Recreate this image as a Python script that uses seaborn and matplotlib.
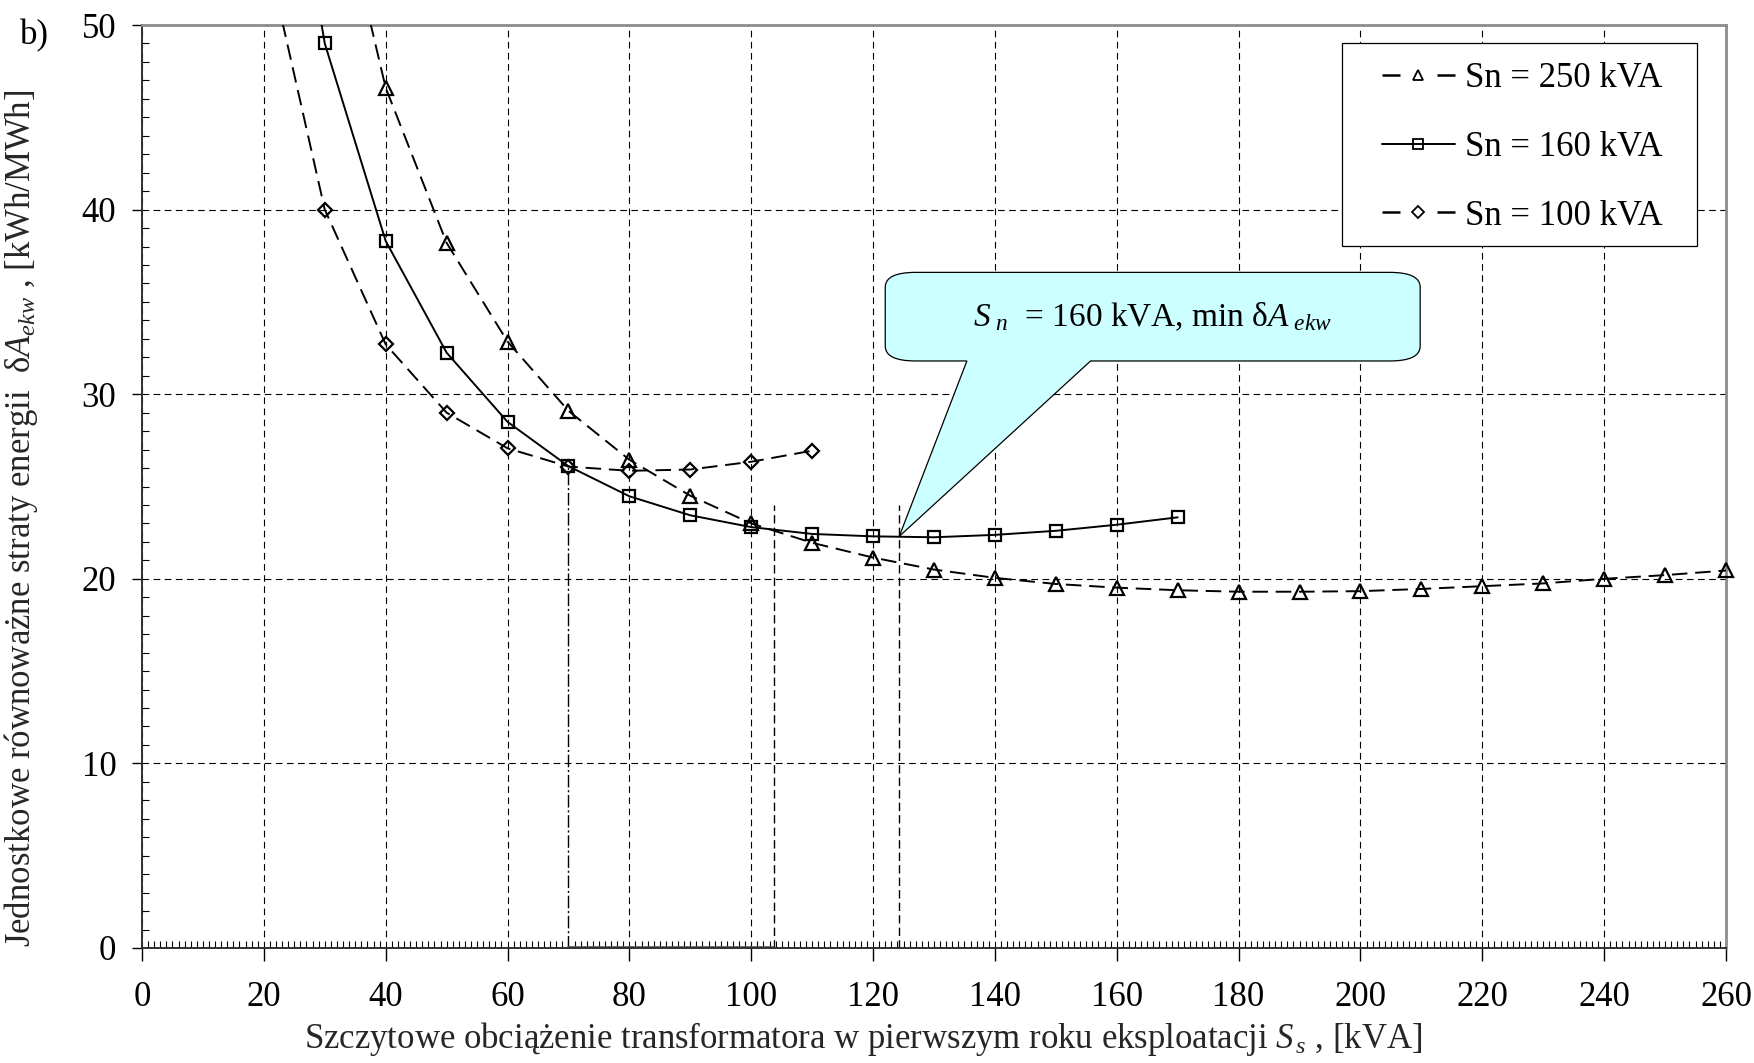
import numpy as np
import pandas as pd
import matplotlib
matplotlib.use("Agg")
import matplotlib.pyplot as plt
import seaborn as sns
from matplotlib.path import Path
from matplotlib.patches import PathPatch, Rectangle
from matplotlib.lines import Line2D
from matplotlib.ticker import MultipleLocator

# ---------------- data ----------------
labels = ["Sn = 250 kVA", "Sn = 160 kVA", "Sn = 100 kVA"]

x_250 = [30, 40, 50, 60, 70, 80, 90, 100, 110, 120, 130, 140, 150, 160, 170,
         180, 190, 200, 210, 220, 230, 240, 250, 260]
y_250 = [60.6, 46.6, 38.2, 32.85, 29.1, 26.45, 24.5, 23.0, 21.95, 21.15, 20.5,
         20.05, 19.72, 19.52, 19.38, 19.3, 19.3, 19.33, 19.45, 19.6, 19.75,
         20.0, 20.2, 20.45]

x_160 = [20, 30, 40, 50, 60, 70, 80, 90, 100, 110, 120, 130, 140, 150, 160, 170]
y_160 = [68.5, 49.0, 38.3, 32.25, 28.5, 26.1, 24.47, 23.44, 22.8, 22.43, 22.3,
         22.25, 22.38, 22.6, 22.93, 23.33]

x_100 = [20, 30, 40, 50, 60, 70, 80, 90, 100, 110]
y_100 = [54.6, 40.0, 32.7, 29.0, 27.07, 26.08, 25.85, 25.92, 26.34, 26.94]

x_ticks = [0, 20, 40, 60, 80, 100, 120, 140, 160, 180, 200, 220, 240, 260]
y_ticks = [0, 10, 20, 30, 40, 50]

# ---------------- style ----------------
sns.set_theme(style="white")
plt.rcParams['font.family'] = ['Liberation Serif', 'DejaVu Serif']
plt.rcParams['mathtext.fontset'] = 'custom'
plt.rcParams['mathtext.rm'] = 'Liberation Serif'
plt.rcParams['mathtext.it'] = 'Liberation Serif:italic'
plt.rcParams['text.color'] = 'black'

FS = 25
W, H = 1754, 1063
fig = plt.figure(figsize=(W / 100, H / 100), dpi=100)
ax = fig.add_axes([142 / W, 1 - 948 / H, (1726 - 142) / W, (948 - 25) / H])

dash = (0, (8, 4))
series = [
    (labels[0], x_250, y_250, '^', dash, 10.5),
    (labels[1], x_160, y_160, 's', '-', 8.5),
    (labels[2], x_100, y_100, 'D', dash, 7.5),
]

ymax = 50
for lab, xs, ys, mk, ls, ms in series:
    df = pd.DataFrame({'x': xs, 'y': ys})
    sns.lineplot(data=df, x='x', y='y', ax=ax, color='black', lw=1.4,
                 linestyle=ls, sort=False, legend=False, zorder=3)
    vis = df[df['y'] <= ymax]
    ax.plot(vis['x'], vis['y'], ls='none', marker=mk, ms=ms, mfc='none',
            mec='black', mew=1.6, clip_on=False, zorder=4)

# reference lines marking the ranges
ax.plot([70, 70], [0, 26.1], color='black', lw=1.0, ls=(0, (9, 2, 1.5, 2)), zorder=2)
ax.plot([103.7, 103.7], [0, 24.0], color='black', lw=1.0, ls=(0, (6, 3)), zorder=2)
ax.plot([124.3, 124.3], [0, 24.0], color='black', lw=1.0, ls=(0, (6, 3)), zorder=2)
ax.plot([70, 103.7], [0.08, 0.08], color='#555555', lw=1.2, zorder=2)

# axes
ax.set_xlim(0, 260)
ax.set_ylim(0, 50)
ax.set_xticks(x_ticks)
ax.set_yticks(y_ticks)
ax.xaxis.set_minor_locator(MultipleLocator(1))
ax.yaxis.set_minor_locator(MultipleLocator(1))
ax.tick_params(which='both', bottom=True, left=True, top=False, right=False,
               colors='black')
ax.tick_params(which='major', direction='out', width=1.0, labelsize=FS)
ax.tick_params(axis='x', which='major', length=9, pad=15)
ax.tick_params(axis='y', which='major', length=7.5, pad=11)
ax.tick_params(which='minor', direction='in', length=5, width=0.8)
ax.grid(True, which='major', color='black', ls=(0, (6, 4)), lw=0.8)
ax.set_axisbelow(True)
for s in ['top', 'right']:
    ax.spines[s].set_color('#8c8c8c')
    ax.spines[s].set_linewidth(2.0)
for s in ['left', 'bottom']:
    ax.spines[s].set_color('#303030')
    ax.spines[s].set_linewidth(1.4)

ax.set_xlabel("Szczytowe obciążenie transformatora w pierwszym roku eksploatacji $S_{\\,s}$ , [kVA]",
              fontsize=FS, va='baseline')
ax.xaxis.set_label_coords((863 - 142) / 1584, -100 / 923)
ax.set_ylabel("Jednostkowe równoważne straty energii  δ$A_{ekw}$ , [kWh/MWh]",
              fontsize=FS, va='center')
ax.yaxis.set_label_coords((21 - 142) / 1584, 0.466)

fig.text(20 / W, 1 - 36 / H, "b)", fontsize=FS, ha='left', va='center')

# callout
x0, x1, yt, yb = 122.0, 209.8, 36.6, 31.8
rx, ry = 5.0, 0.8
pl, pr = 135.4, 155.7
tip = (124.3, 22.3)
verts = [
    (x0 + rx, yt), (x1 - rx, yt),
    (x1, yt), (x1, yt - ry),
    (x1, yb + ry),
    (x1, yb), (x1 - rx, yb),
    (pr, yb), tip, (pl, yb),
    (x0 + rx, yb),
    (x0, yb), (x0, yb + ry),
    (x0, yt - ry),
    (x0, yt), (x0 + rx, yt),
    (x0 + rx, yt),
]
codes = [Path.MOVETO, Path.LINETO, Path.CURVE3, Path.CURVE3, Path.LINETO,
         Path.CURVE3, Path.CURVE3, Path.LINETO, Path.LINETO, Path.LINETO,
         Path.LINETO, Path.CURVE3, Path.CURVE3, Path.LINETO, Path.CURVE3,
         Path.CURVE3, Path.CLOSEPOLY]
ax.add_patch(PathPatch(Path(verts, codes), fc='#ccffff', ec='black', lw=0.9,
                       zorder=5))
ax.text(165.9, 34.2, "$S_{\\ n}$  = 160 kVA, min δ$A_{\\ ekw}$", ha='center',
        va='center', fontsize=24, zorder=6)

# legend: frame drawn as a box, entries placed inside it
ax.add_patch(Rectangle((1342 / W, 1 - 246 / H), 355 / W, 203 / H,
                       transform=fig.transFigure, fc='white', ec='black',
                       lw=0.9, zorder=6, clip_on=False))
leg_dash = (0, (7.2, 14.8))
handles = [
    Line2D([], [], color='black', lw=1.8, ls=leg_dash, marker='^', ms=7.5, mfc='none', mew=1.3),
    Line2D([], [], color='black', lw=1.4, ls='-', marker='s', ms=7, mfc='none', mew=1.3),
    Line2D([], [], color='black', lw=1.8, ls=leg_dash, marker='D', ms=6, mfc='none', mew=1.3),
]
leg = ax.legend(handles, labels, loc='upper left',
                bbox_to_anchor=(1382 / W, 1 - 62 / H), bbox_transform=fig.transFigure,
                fontsize=FS, frameon=False, handlelength=2.1, handletextpad=0.3,
                labelspacing=1.03, borderpad=0, borderaxespad=0)
leg.set_zorder(7)

fig.savefig("out.png", dpi=100)
